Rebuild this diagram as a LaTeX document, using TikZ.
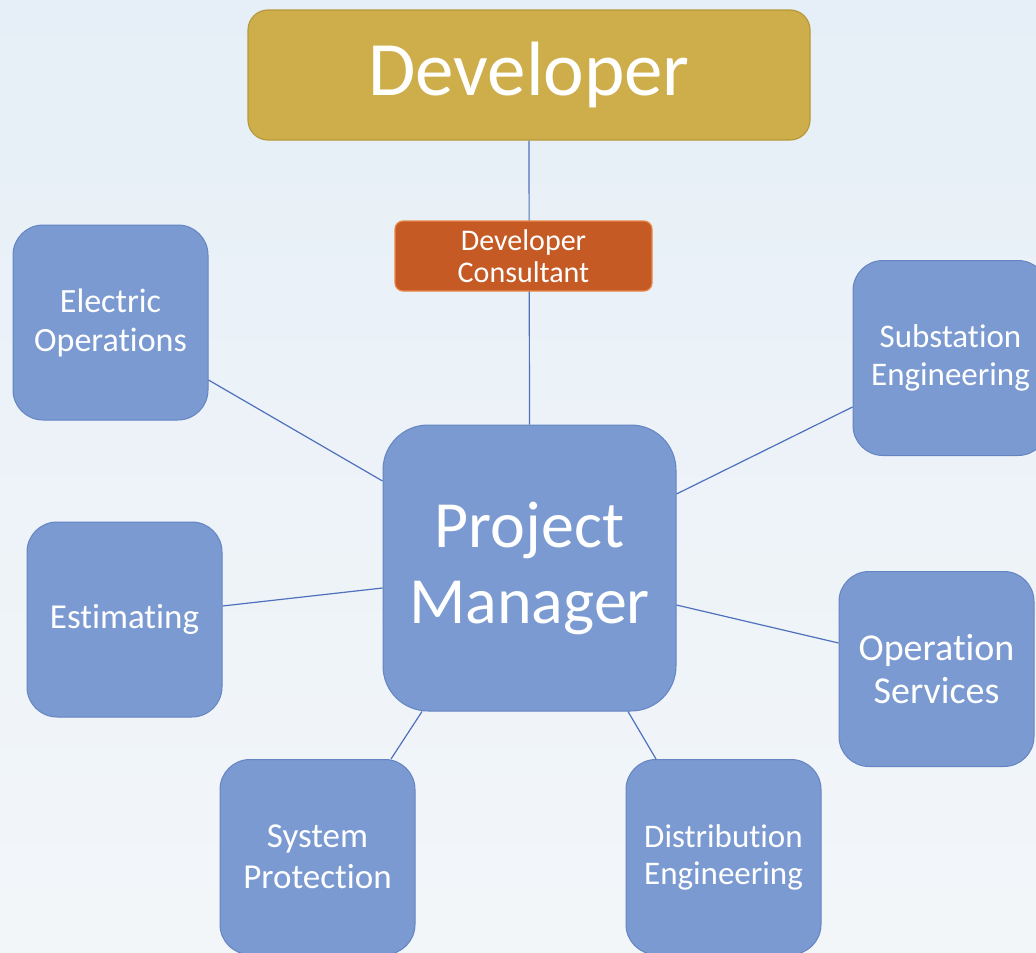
\documentclass[tikz,border=0pt]{standalone}
\usepackage{fontspec}
\setmainfont[Ligatures=NoCommon]{Carlito}
\definecolor{bgtop}{HTML}{E6EFF7}
\definecolor{bgbot}{HTML}{F3F6F9}
\definecolor{devfill}{HTML}{CDAE4B}
\definecolor{devedge}{HTML}{B8993A}
\definecolor{consfill}{HTML}{C55A25}
\definecolor{consedge}{HTML}{E8884A}
\definecolor{bluefill}{HTML}{7B9AD1}
\definecolor{blueedge}{HTML}{6585C2}
\definecolor{linkcol}{HTML}{4E70BD}
\tikzset{
  box/.style={draw=blueedge, line width=1pt, fill=bluefill, text=white, align=center,
    rounded corners=30pt, minimum width=195pt, minimum height=195pt, inner sep=0pt,
    font=\fontsize{33}{38}\selectfont},
  link/.style={draw=linkcol, line width=1.2pt},
}
\begin{document}
\begin{tikzpicture}[x=1pt,y=-1pt]
\useasboundingbox (0,0) rectangle (1036,953);
\clip (0,0) rectangle (1036,953);
\shade[top color=bgtop, bottom color=bgbot] (0,0) rectangle (1036,953);

% nodes
\node[draw=devedge, line width=1.2pt, fill=devfill, text=white, rounded corners=20pt,
  minimum width=562pt, minimum height=130pt, inner sep=0pt,
  font=\fontsize{77}{80}\selectfont] (dev) at (529,75) {Developer};
\node[box, rounded corners=45pt, minimum width=293pt, minimum height=286pt,
  font=\fontsize{66}{76}\selectfont] (pm) at (529.5,568) {Project\\Manager};
\node[box, font=\fontsize{34}{39}\selectfont] (eo) at (110.5,322.5) {Electric\\Operations};
\node[box, font=\fontsize{35}{40}\selectfont] (est) at (124.5,619.5) {Estimating};
\node[box] (sub) at (950.5,358) {Substation\\Engineering};
\node[box, font=\fontsize{38}{43}\selectfont] (os) at (936.5,669) {Operation\\Services};
\node[box, font=\fontsize{35}{41}\selectfont] (sp) at (317.5,857) {System\\Protection};
\node[box, font=\fontsize{33}{37}\selectfont] (de) at (723.5,857) {Distribution\\Engineering};

% connectors
\draw[link] (dev.south) -- (pm.north);
\node[draw=consedge, line width=1.2pt, fill=consfill, text=white, rounded corners=8pt,
  minimum width=257pt, minimum height=70pt, inner sep=0pt, align=center,
  font=\fontsize{30}{32}\selectfont] (con) at (523.5,256) {Developer\\Consultant};
\draw[link] (eo.east |- 0,380) -- (pm.west |- 0,481);
\draw[link] (est.east |- 0,606) -- (pm.west |- 0,588);
\draw[link] (sub.west |- 0,407) -- (pm.east |- 0,494);
\draw[link] (os.west |- 0,643) -- (pm.east |- 0,605);
\draw[link] (sp.north -| 391,0) -- (pm.south -| 422,0);
\draw[link] (de.north -| 656,0) -- (pm.south -| 628,0);
\end{tikzpicture}
\end{document}
